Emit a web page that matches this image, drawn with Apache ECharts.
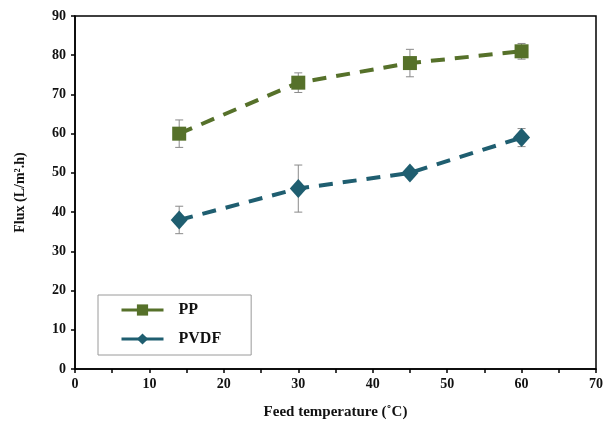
<!DOCTYPE html>
<html>
<head>
<meta charset="utf-8">
<script src="https://cdn.jsdelivr.net/npm/echarts@6/dist/echarts.min.js"></script>
<style>
  html, body { margin: 0; padding: 0; background: #fff; }
  #chart { width: 606px; height: 429px; }
</style>
</head>
<body>
<div id="chart"></div>
<script>
// Feed temperature (°C) and permeate flux for the two membranes
const temperatures = [14, 30, 45, 60];
const ppFlux = [60, 73, 78, 81];
const ppErr = [3.5, 2.5, 3.5, 2];
const pvdfFlux = [38, 46, 50, 59];
const pvdfErr = [3.5, 6, 1, 2.3];

const PP_COLOR = '#56712a';
const PVDF_COLOR = '#1f5e70';
const FONT = '"Liberation Serif", "DejaVu Serif", serif';

function pairs(xs, ys) { return xs.map((x, i) => [x, ys[i]]); }
function errRows(xs, ys, es) { return xs.map((x, i) => [x, ys[i] - es[i], ys[i] + es[i]]); }

function errorBars(name, rows) {
  return {
    type: 'custom',
    name: name + ' error',
    data: rows,
    z: 1,
    silent: true,
    renderItem: function (params, api) {
      const x = api.value(0);
      const lo = api.coord([x, api.value(1)]);
      const hi = api.coord([x, api.value(2)]);
      const cap = 4;
      const style = { stroke: '#8a8a8a', lineWidth: 1 };
      return {
        type: 'group',
        children: [
          { type: 'line', shape: { x1: lo[0], y1: lo[1], x2: hi[0], y2: hi[1] }, style: style },
          { type: 'line', shape: { x1: lo[0] - cap, y1: lo[1], x2: lo[0] + cap, y2: lo[1] }, style: style },
          { type: 'line', shape: { x1: hi[0] - cap, y1: hi[1], x2: hi[0] + cap, y2: hi[1] }, style: style }
        ]
      };
    }
  };
}

const chart = echarts.init(document.getElementById('chart'));
chart.setOption({
  animation: false,
  backgroundColor: '#fff',
  grid: { left: 75, right: 9, top: 16, bottom: 60, show: true, borderColor: '#000', borderWidth: 1.5 },
  xAxis: {
    type: 'value', min: 0, max: 70, interval: 10,
    name: 'Feed temperature (˚C)', nameLocation: 'middle', nameGap: 36,
    nameTextStyle: { fontFamily: FONT, fontWeight: 'bold', fontSize: 15, color: '#111' },
    axisLine: { show: true, onZero: false, lineStyle: { color: '#000', width: 1.5 } },
    axisTick: { show: true, length: 4, lineStyle: { color: '#000', width: 1.5 } },
    minorTick: { show: true, splitNumber: 2, length: 4, lineStyle: { color: '#000', width: 1.5 } },
    axisLabel: { fontFamily: FONT, fontWeight: 'bold', fontSize: 14, color: '#111', margin: 8 },
    splitLine: { show: false }
  },
  yAxis: {
    type: 'value', min: 0, max: 90, interval: 10,
    name: 'Flux (L/m².h)', nameLocation: 'middle', nameGap: 48,
    nameTextStyle: { fontFamily: FONT, fontWeight: 'bold', fontSize: 14, color: '#111' },
    axisLine: { show: true, lineStyle: { color: '#000', width: 1.5 } },
    axisTick: { show: true, length: 4, lineStyle: { color: '#000', width: 1.5 } },
    axisLabel: { fontFamily: FONT, fontWeight: 'bold', fontSize: 14, color: '#111', margin: 9 },
    splitLine: { show: false }
  },
  legend: {
    orient: 'vertical',
    left: 98, top: 295,
    data: ['PP', 'PVDF'],
    itemWidth: 42, itemHeight: 14, itemGap: 13,
    padding: [7, 30, 8, 22],
    borderColor: '#9a9a9a', borderWidth: 1,
    lineStyle: { type: 'solid', width: 3 },
    textStyle: { fontFamily: FONT, fontWeight: 'bold', fontSize: 16, color: '#111', padding: [0, 0, 0, 10] }
  },
  series: [
    errorBars('PP', errRows(temperatures, ppFlux, ppErr)),
    errorBars('PVDF', errRows(temperatures, pvdfFlux, pvdfErr)),
    {
      name: 'PP', type: 'line', data: pairs(temperatures, ppFlux), z: 3,
      symbol: 'rect', symbolSize: 14,
      itemStyle: { color: PP_COLOR },
      lineStyle: { color: PP_COLOR, width: 4, type: [14, 10] }
    },
    {
      name: 'PVDF', type: 'line', data: pairs(temperatures, pvdfFlux), z: 3,
      symbol: 'diamond', symbolSize: [17, 19],
      itemStyle: { color: PVDF_COLOR },
      lineStyle: { color: PVDF_COLOR, width: 4, type: [14, 10] }
    }
  ]
});
</script>
</body>
</html>
